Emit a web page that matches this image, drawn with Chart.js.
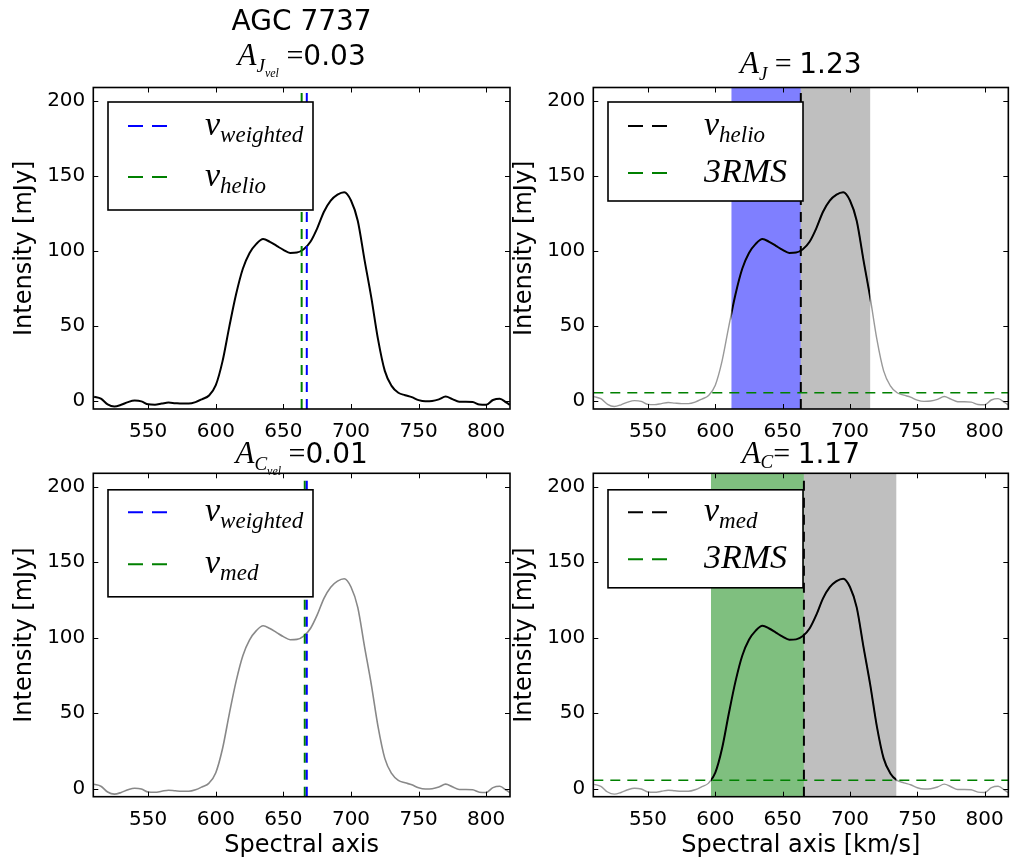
<!DOCTYPE html>
<html>
<head>
<meta charset="utf-8">
<title>AGC 7737</title>
<script src="https://cdn.jsdelivr.net/npm/chart.js@4.4.0/dist/chart.umd.min.js"></script>
<style>
  body { margin: 0; background: #fff; }
  #wrap { position: relative; width: 1015px; height: 865px; }
  #wrap canvas { position: absolute; left: 0; top: 0; }
</style>
</head>
<body>
<div id="wrap">
  <canvas id="velJ" width="1015" height="865"></canvas>
  <canvas id="asymJ" width="1015" height="865"></canvas>
  <canvas id="velC" width="1015" height="865"></canvas>
  <canvas id="asymC" width="1015" height="865"></canvas>
</div>
<script>
// HI spectrum of AGC 7737 (km/s, mJy)
const velocity = [
  510, 515, 520, 525, 530, 535, 540, 545, 550, 555, 560, 565, 570, 575, 580, 585,
  590, 595, 600, 605, 610, 615, 620, 625, 630, 635, 640, 645, 650, 655, 660, 665,
  670, 675, 680, 685, 690, 695, 700, 705, 710, 715, 720, 725, 730, 735, 740, 745,
  750, 755, 760, 765, 770, 775, 780, 785, 790, 795, 800, 805, 810, 815, 817.5
];
const intensity = [
  2.8, 1.5, -2.3, -3.7, -2.6, -0.8, 0.2, -0.3, -2.3, -2.5, -1.8, -1.1, -1.5, -1.8, -1.8, -0.8,
  1.2, 3.6, 10.5, 26.5, 49.5, 71, 88, 98.5, 104.6, 107.8, 106, 103.3, 100.6, 98.6, 98.8, 101,
  106, 115, 126, 133.4, 137.4, 139, 133.5, 120, 94, 69, 41, 20, 10, 5.4, 3.8, 2.5,
  0.5, -0.3, -0.1, 1, 2.9, 1.2, -0.6, -0.6, -0.8, -2.4, -2.6, 0.6, 1.5, -1.2, -2.7
];

const xTicks = [550, 600, 650, 700, 750, 800];
const yTicks = [0, 50, 100, 150, 200];
const xRange = [509.4, 817.6];
const yRange = [-5.4, 208.8];

// characteristic velocities
const vHelio = 663.5;
const vWeighted = 667.3;
const vMed = 665.8;
const rms3 = 5.5;

// integration windows either side of the centre
const jWindow = [612, 663.5, 715];
const cWindow = [596.8, 665.8, 734.4];

const spectrum = velocity.map((v, i) => ({ x: v, y: intensity[i] }));

Chart.defaults.font.family = 'DejaVu Sans';
Chart.defaults.color = '#000';

const SERIF = '"Liberation Serif", "DejaVu Serif", serif';
const DASH = [10, 7];
const KEY_DASH = [15, 9];

function vline(v, color) {
  return {
    data: [{ x: v, y: yRange[0] }, { x: v, y: yRange[1] }],
    borderColor: color, borderWidth: 2, borderDash: DASH, pointRadius: 0
  };
}

function hline(val, color) {
  return {
    data: [{ x: xRange[0], y: val }, { x: xRange[1], y: val }],
    borderColor: color, borderWidth: 1.5, borderDash: DASH, pointRadius: 0
  };
}

function curve(color, width, xWindow) {
  return {
    data: spectrum, borderColor: color, borderWidth: width,
    pointRadius: 0, cubicInterpolationMode: 'monotone', xWindow: xWindow
  };
}

// shaded velocity ranges behind the spectrum
const bands = {
  id: 'bands',
  beforeDatasetsDraw(chart, args, opts) {
    const { ctx, chartArea: a, scales: { x } } = chart;
    ctx.save();
    (opts.list || []).forEach(b => {
      const l = x.getPixelForValue(b.from), r = x.getPixelForValue(b.to);
      ctx.fillStyle = b.color;
      ctx.fillRect(l, a.top, r - l, a.height);
    });
    ctx.restore();
  }
};

// restrict a dataset to a velocity window
const windowClip = {
  id: 'windowClip',
  beforeDatasetDraw(chart, args) {
    const w = chart.data.datasets[args.index].xWindow;
    if (!w) return;
    const { ctx, chartArea: a, scales: { x } } = chart;
    const l = x.getPixelForValue(w[0]), r = x.getPixelForValue(w[1]);
    ctx.save();
    ctx.beginPath();
    ctx.rect(l, a.top, r - l, a.height);
    ctx.clip();
  },
  afterDatasetDraw(chart, args) {
    if (chart.data.datasets[args.index].xWindow) chart.ctx.restore();
  }
};

// box around the axes with inward ticks on every side
const frameTicks = {
  id: 'frameTicks',
  afterDatasetsDraw(chart) {
    const { ctx, chartArea: a, scales: { x, y } } = chart;
    ctx.save();
    ctx.strokeStyle = '#000';
    ctx.lineWidth = 1;
    ctx.beginPath();
    x.ticks.forEach(t => {
      const p = Math.round(x.getPixelForValue(t.value)) + 0.5;
      ctx.moveTo(p, a.bottom); ctx.lineTo(p, a.bottom - 5);
      ctx.moveTo(p, a.top); ctx.lineTo(p, a.top + 5);
    });
    y.ticks.forEach(t => {
      const p = Math.round(y.getPixelForValue(t.value)) + 0.5;
      ctx.moveTo(a.left, p); ctx.lineTo(a.left + 5, p);
      ctx.moveTo(a.right, p); ctx.lineTo(a.right - 5, p);
    });
    ctx.stroke();
    ctx.lineWidth = 1.6;
    ctx.strokeRect(a.left, a.top, a.width, a.height);
    ctx.restore();
  }
};

function drawRuns(ctx, runs, x, base) {
  runs.forEach(r => {
    ctx.font = r.font;
    ctx.fillText(r.text, x + (r.dx || 0), base + (r.dy || 0));
    x += (r.dx || 0) + ctx.measureText(r.text).width;
  });
}

function runsWidth(ctx, runs) {
  return runs.reduce((w, r) => {
    ctx.font = r.font;
    return w + (r.dx || 0) + ctx.measureText(r.text).width;
  }, 0);
}

// legend with math-style labels
const keyBox = {
  id: 'keyBox',
  afterDraw(chart, args, opts) {
    if (!opts.rows) return;
    const { ctx, chartArea: a } = chart;
    const bx = a.left + opts.left, by = a.top + opts.top;
    ctx.save();
    ctx.fillStyle = '#fff';
    ctx.fillRect(bx, by, opts.width, opts.height);
    ctx.strokeStyle = '#000';
    ctx.lineWidth = 1.6;
    ctx.strokeRect(bx, by, opts.width, opts.height);
    opts.rows.forEach(row => {
      ctx.strokeStyle = row.color;
      ctx.lineWidth = 2;
      ctx.setLineDash(KEY_DASH);
      ctx.beginPath();
      ctx.moveTo(bx + 20, by + row.y);
      ctx.lineTo(bx + 59, by + row.y);
      ctx.stroke();
      ctx.setLineDash([]);
      ctx.fillStyle = '#000';
      ctx.textBaseline = 'alphabetic';
      drawRuns(ctx, row.runs, bx + opts.textX, by + row.y + 9);
    });
    ctx.restore();
  }
};

// centred title lines above each panel
const heading = {
  id: 'heading',
  afterDraw(chart, args, opts) {
    if (!opts.lines) return;
    const { ctx, chartArea: a } = chart;
    const cx = (a.left + a.right) / 2;
    ctx.save();
    ctx.fillStyle = '#000';
    ctx.textBaseline = 'alphabetic';
    opts.lines.forEach(line => {
      const w = runsWidth(ctx, line.runs);
      drawRuns(ctx, line.runs, cx - w / 2, line.baseline);
    });
    ctx.restore();
  }
};

function panel(id, cfg) {
  return new Chart(document.getElementById(id), {
    type: 'line',
    data: { datasets: cfg.datasets },
    options: {
      responsive: false,
      animation: false,
      events: [],
      layout: { padding: cfg.padding },
      scales: {
        x: {
          type: 'linear', min: xRange[0], max: xRange[1],
          afterBuildTicks: s => { s.ticks = xTicks.map(v => ({ value: v })); },
          afterFit: s => { s.height = cfg.xHeight; },
          grid: { display: false, drawTicks: false }, border: { display: false },
          ticks: { padding: 11, font: { size: 20 }, maxRotation: 0, autoSkip: false },
          title: { display: !!cfg.xTitle, text: cfg.xTitle, font: { size: 24 }, padding: { top: 0, bottom: 5 } }
        },
        y: {
          type: 'linear', min: yRange[0], max: yRange[1],
          afterBuildTicks: s => { s.ticks = yTicks.map(v => ({ value: v })); },
          afterFit: s => { s.width = 93.3; },
          grid: { display: false, drawTicks: false }, border: { display: false },
          ticks: { padding: 8, font: { size: 20 } },
          title: { display: true, text: 'Intensity [mJy]', font: { size: 24 }, padding: { top: 10, bottom: 0 } }
        }
      },
      plugins: {
        legend: { display: false },
        tooltip: { enabled: false },
        bands: { list: cfg.bands || [] },
        keyBox: cfg.key,
        heading: cfg.heading
      }
    },
    plugins: [bands, windowClip, frameTicks, keyBox, heading]
  });
}

const A = (t) => ({ text: t, font: 'italic 31px ' + SERIF });
const sub = (t, dy) => ({ text: t, font: 'italic 19px ' + SERIF, dy: dy });
const subsub = (t) => ({ text: t, font: 'italic 12px ' + SERIF, dy: 12 });
const eq = (t) => ({ text: t, font: '30px ' + SERIF });
const num = (t) => ({ text: t, font: '28px DejaVu Sans' });
const v = { text: 'v', font: 'italic 34px ' + SERIF };
const vsub = (t) => ({ text: t, font: 'italic 23px ' + SERIF, dy: 7 });
const rmsLabel = { text: '3RMS', font: 'italic 34px ' + SERIF };

// top left: velocity offset, heliocentric
panel('velJ', {
  padding: { left: 0, top: 87.5, right: 505, bottom: 0 },
  xHeight: 865 - 409,
  datasets: [
    vline(vWeighted, '#0000ff'),
    vline(vHelio, '#008000'),
    curve('#000', 2)
  ],
  key: {
    left: 14.7, top: 14.5, width: 205, height: 108, textX: 97,
    rows: [
      { y: 24, color: '#0000ff', runs: [v, vsub('weighted')] },
      { y: 75, color: '#008000', runs: [v, vsub('helio')] }
    ]
  },
  heading: {
    lines: [
      { baseline: 30, runs: [num('AGC 7737')] },
      { baseline: 65, runs: [A('A'), sub('J', 7), subsub('vel'), eq(' ='), num('0.03')] }
    ]
  }
});

// top right: asymmetry about the heliocentric velocity
panel('asymJ', {
  padding: { left: 500, top: 87.5, right: 5, bottom: 0 },
  xHeight: 865 - 409,
  bands: [
    { from: jWindow[0], to: jWindow[1], color: 'rgba(0,0,255,0.5)' },
    { from: jWindow[1], to: jWindow[2], color: 'rgba(128,128,128,0.5)' }
  ],
  datasets: [
    hline(rms3, '#008000'),
    vline(vHelio, '#000'),
    curve('#000', 2, [jWindow[0], jWindow[2]]),
    curve('#999', 1.4)
  ],
  key: {
    left: 14.7, top: 14.5, width: 195, height: 99, textX: 96,
    rows: [
      { y: 24, color: '#000', runs: [v, vsub('helio')] },
      { y: 71, color: '#008000', runs: [rmsLabel] }
    ]
  },
  heading: {
    lines: [{ baseline: 73, runs: [A('A'), sub('J', 7), eq(' = '), num('1.23')] }]
  }
});

// bottom left: velocity offset, median
panel('velC', {
  padding: { left: 0, top: 473.3, right: 505, bottom: 0 },
  xHeight: 865 - 796.7,
  xTitle: 'Spectral axis',
  datasets: [
    vline(vWeighted, '#0000ff'),
    vline(vMed, '#008000'),
    curve('#888', 1.6)
  ],
  key: {
    left: 14.7, top: 16.5, width: 205, height: 107, textX: 97,
    rows: [
      { y: 22.5, color: '#0000ff', runs: [v, vsub('weighted')] },
      { y: 74.5, color: '#008000', runs: [v, vsub('med')] }
    ]
  },
  heading: {
    lines: [{ baseline: 463, runs: [A('A'), sub('C', 7), subsub('vel'), eq(' ='), num('0.01')] }]
  }
});

// bottom right: asymmetry about the median velocity
panel('asymC', {
  padding: { left: 500, top: 473.3, right: 5, bottom: 0 },
  xHeight: 865 - 796.7,
  xTitle: 'Spectral axis [km/s]',
  bands: [
    { from: cWindow[0], to: cWindow[1], color: 'rgba(0,128,0,0.5)' },
    { from: cWindow[1], to: cWindow[2], color: 'rgba(128,128,128,0.5)' }
  ],
  datasets: [
    hline(rms3, '#008000'),
    vline(vMed, '#000'),
    curve('#000', 2, [cWindow[0], cWindow[2]]),
    curve('#999', 1.4)
  ],
  key: {
    left: 14.7, top: 16.5, width: 195, height: 98, textX: 96,
    rows: [
      { y: 22.5, color: '#000', runs: [v, vsub('med')] },
      { y: 69.5, color: '#008000', runs: [rmsLabel] }
    ]
  },
  heading: {
    lines: [{ baseline: 463, runs: [A('A'), sub('C', 5), eq('= '), num('1.17')] }]
  }
});
</script>
</body>
</html>
